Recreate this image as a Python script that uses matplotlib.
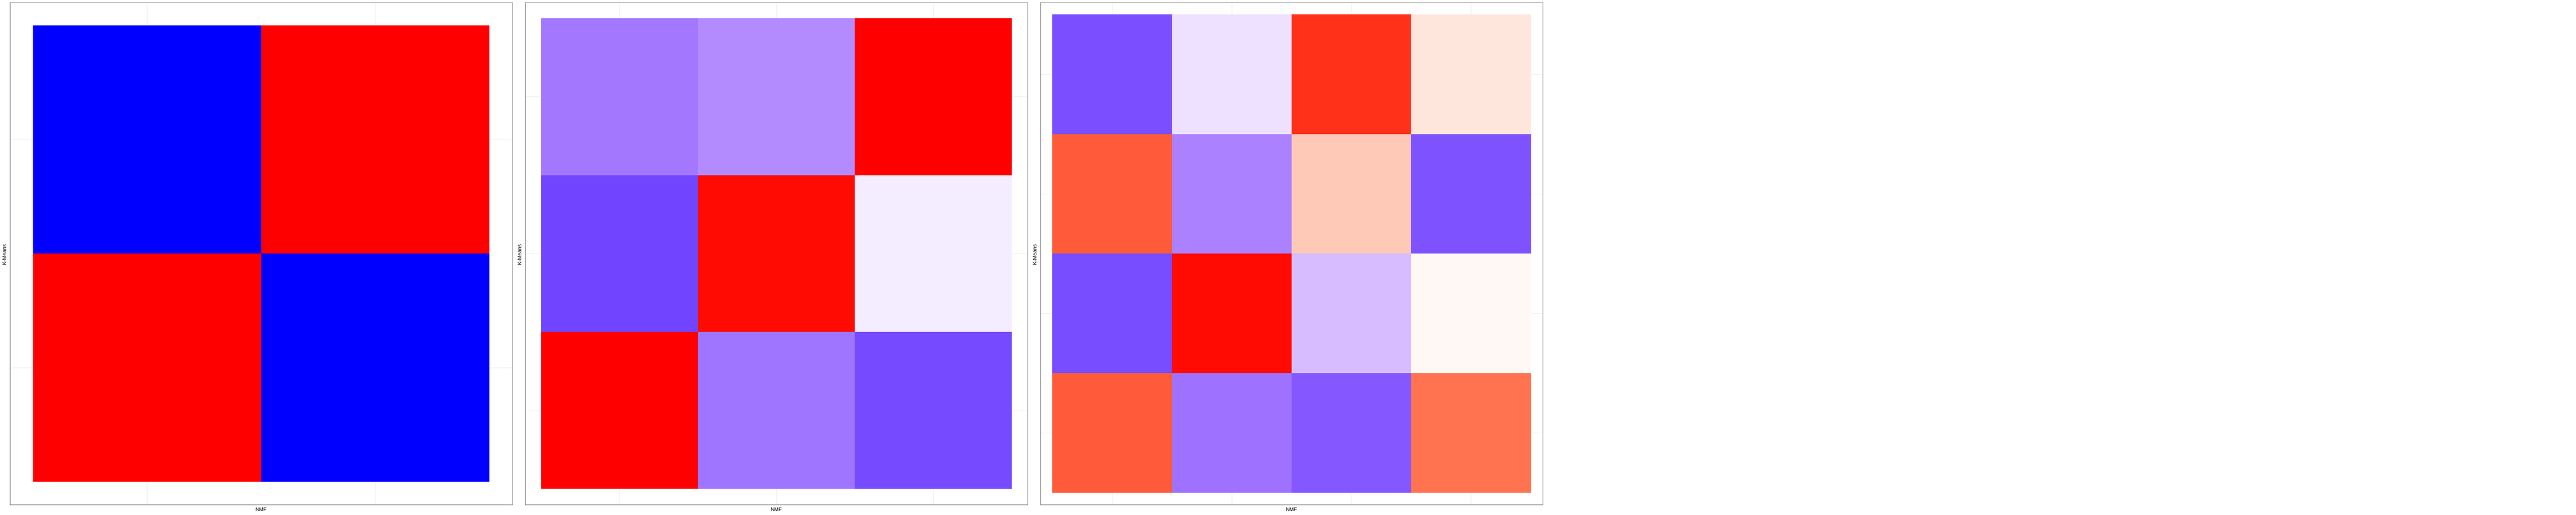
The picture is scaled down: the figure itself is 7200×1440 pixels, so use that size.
import numpy as np
import matplotlib
matplotlib.use("Agg")
import matplotlib.pyplot as plt
from matplotlib.colors import ListedColormap, Normalize

plt.rcParams["font.family"] = ["Liberation Sans", "DejaVu Sans"]

# ----------
# Data: agreement between NMF and K-Means clusters (rows top -> bottom)
# ----------
panel_k = [2, 3, 4]

vals_k2 = [[-1.00, 1.00],
           [1.00, -1.00]]

vals_k3 = [[-0.58, -0.50, 1.00],
           [-0.80, 0.99, -0.08],
           [1.00, -0.60, -0.78]]

vals_k4 = [[-0.76, -0.13, 0.93, 0.13],
           [0.80, -0.54, 0.28, -0.75],
           [-0.77, 0.99, -0.28, 0.04],
           [0.80, -0.61, -0.72, 0.70]]

panels = [vals_k2, vals_k3, vals_k4]
x_label = "NMF"
y_label = "K-Means"


# ----------
# Diverging blue-white-red scale, interpolated in CIELAB (like ggplot2)
# ----------
def srgb_to_lab(rgb):
    c = np.asarray(rgb, dtype=float)
    lin = np.where(c <= 0.04045, c / 12.92, ((c + 0.055) / 1.055) ** 2.4)
    m = np.array([[0.4124, 0.3576, 0.1805],
                  [0.2126, 0.7152, 0.0722],
                  [0.0193, 0.1192, 0.9505]])
    xyz = m @ lin / np.array([0.95047, 1.0, 1.08883])
    f = np.where(xyz > 0.008856, np.cbrt(xyz), 7.787 * xyz + 16 / 116)
    return np.array([116 * f[1] - 16, 500 * (f[0] - f[1]), 200 * (f[1] - f[2])])


def lab_to_srgb(lab):
    L, a, b = lab
    fy = (L + 16) / 116
    fx = fy + a / 500
    fz = fy - b / 200
    f = np.array([fx, fy, fz])
    xyz = np.where(f ** 3 > 0.008856, f ** 3, (f - 16 / 116) / 7.787)
    xyz = xyz * np.array([0.95047, 1.0, 1.08883])
    m_inv = np.array([[3.2406, -1.5372, -0.4986],
                      [-0.9689, 1.8758, 0.0415],
                      [0.0557, -0.2040, 1.0570]])
    lin = np.clip(m_inv @ xyz, 0, 1)
    c = np.where(lin <= 0.0031308, 12.92 * lin, 1.055 * lin ** (1 / 2.4) - 0.055)
    return np.clip(c, 0, 1)


low = srgb_to_lab([0, 0, 1])
mid = srgb_to_lab([1, 1, 1])
high = srgb_to_lab([1, 0, 0])
ramp = []
for t in np.linspace(0, 1, 513):
    if t <= 0.5:
        s = t / 0.5
        lab = low + (mid - low) * s
    else:
        s = (t - 0.5) / 0.5
        lab = mid + (high - mid) * s
    ramp.append(lab_to_srgb(lab))
ramp[0] = (0, 0, 1)
ramp[-1] = (1, 0, 0)
cmap = ListedColormap(ramp)
norm = Normalize(vmin=-1, vmax=1)

# ----------
# Figure: 5 slots of 1440 px, only the first three used
# ----------
W, H = 7200, 1440
fig = plt.figure(figsize=(W / 100, H / 100), dpi=100)

for i, vals in enumerate(panels):
    v = np.array(vals)
    n = v.shape[0]
    ax = fig.add_axes([(i * 1440 + 28) / W, 29 / H, 1404 / W, 1404 / H])

    edges = np.arange(n + 1) + 0.5
    ax.pcolormesh(edges, edges, v, cmap=cmap, norm=norm, zorder=2)

    ax.set_xlim(0.4, n + 0.6)
    ax.set_ylim(n + 0.6, 0.4)
    ax.set_xticks(range(1, n + 1))
    ax.set_yticks(range(1, n + 1))
    ax.tick_params(length=0, labelbottom=False, labelleft=False)
    ax.grid(True, color="#EBEBEB", linewidth=0.9, zorder=0)
    ax.set_axisbelow(True)
    for sp in ax.spines.values():
        sp.set_color("#737373")
        sp.set_linewidth(1.0)
        sp.set_zorder(3)

    ax.set_xlabel(x_label, fontsize=10.6, color="black")
    ax.xaxis.set_label_coords(0.5, -14 / 1404)
    ax.xaxis.label.set_va("center")
    ax.set_ylabel(y_label, fontsize=10.6, color="black")
    ax.yaxis.set_label_coords(-15.5 / 1404, 0.5)
    ax.yaxis.label.set_va("center")

fig.savefig("out.png", dpi=100, facecolor="white")
